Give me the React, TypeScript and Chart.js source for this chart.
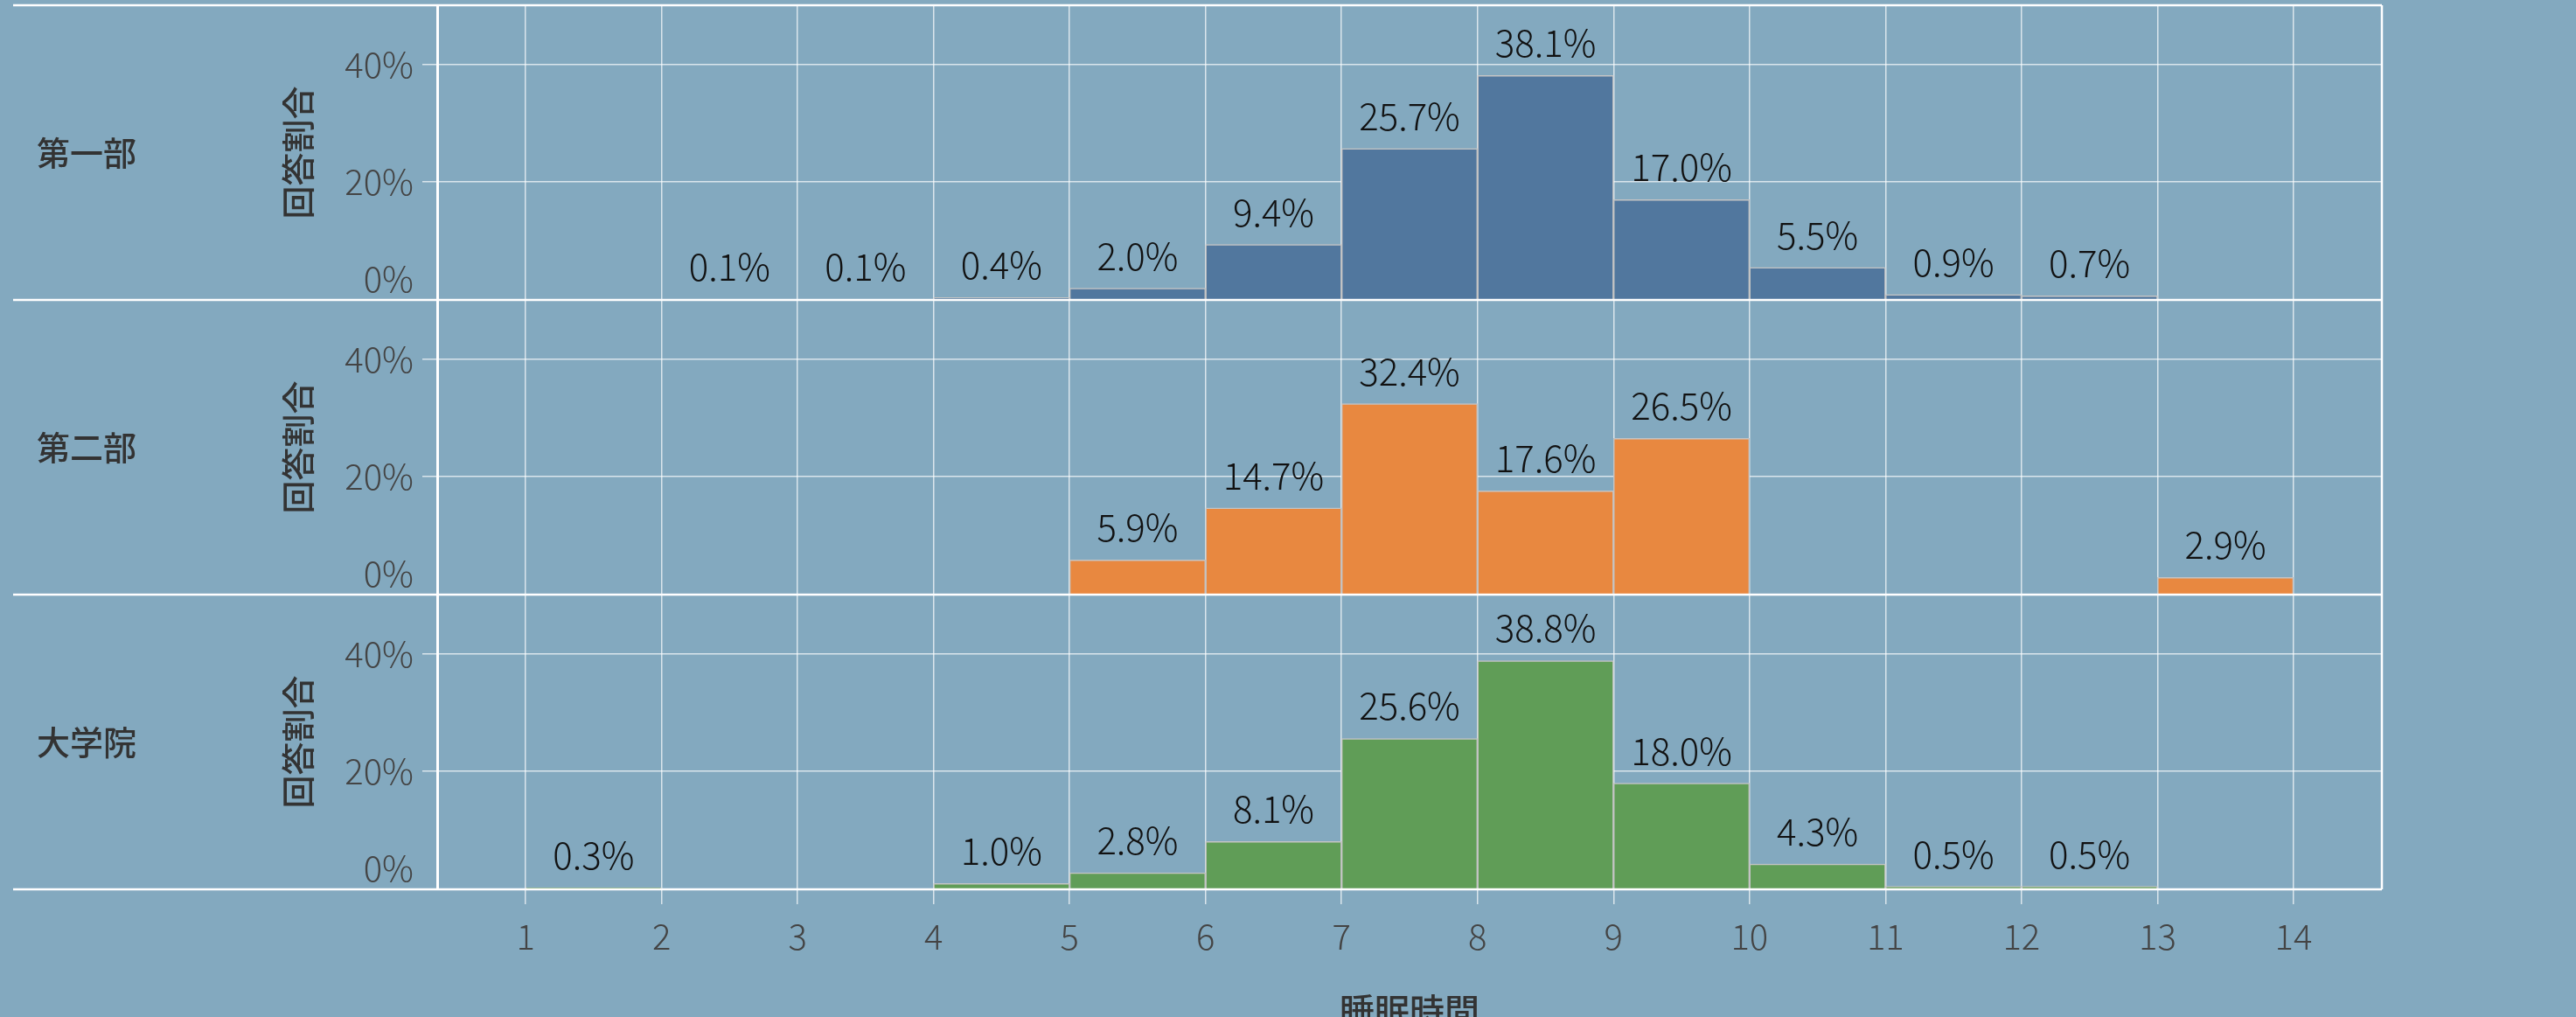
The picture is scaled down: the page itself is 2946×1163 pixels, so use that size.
import React, { useEffect, useRef } from 'react';
import { Chart, registerables } from 'chart.js';

Chart.register(...registerables);

// ---- data ----
const binStarts = [1, 2, 3, 4, 5, 6, 7, 8, 9, 10, 11, 12, 13];
const xTickValues = [1, 2, 3, 4, 5, 6, 7, 8, 9, 10, 11, 12, 13, 14];
const yTickValues = [0, 20, 40];
const groupNames = ['第一部', '第二部', '大学院'];
const dept1Values = [null, 0.1, 0.1, 0.4, 2.0, 9.4, 25.7, 38.1, 17.0, 5.5, 0.9, 0.7, null];
const dept2Values = [null, null, null, null, 5.9, 14.7, 32.4, 17.6, 26.5, null, null, null, 2.9];
const gradValues = [0.3, null, null, 1.0, 2.8, 8.1, 25.6, 38.8, 18.0, 4.3, 0.5, 0.5, null];
const groupColors = ['#51779e', '#e88840', '#609d57'];
const yTitleText = '回答割合';
const xTitleText = '睡眠時間';

const W = 2946;
const H = 1163;
const BG = '#83a9bf';
const FONT = '"Noto Sans CJK JP", "Noto Sans", sans-serif';
const GRID = 'rgba(255,255,255,0.7)';

const seriesList = [dept1Values, dept2Values, gradValues];
const axisIds = ['yA', 'yB', 'yC'];

function makeYScale(idx: number) {
  return {
    type: 'linear',
    position: 'left',
    stack: 'rows',
    stackWeight: 1,
    min: 0,
    max: 50,
    afterBuildTicks: (s: any) => {
      s.ticks = yTickValues.map((v) => ({ value: v }));
    },
    afterFit: (s: any) => {
      s.width = 500;
      s.paddingTop = 0;
      s.paddingBottom = 0;
    },
    grid: { color: GRID, lineWidth: 1.5, tickLength: 17, drawTicks: true },
    border: { display: true, color: '#ffffff', width: 3 },
    ticks: {
      callback: (v: any) => (v === 0 ? ['0%', ''] : v + '%'),
      font: { family: FONT, size: 40, weight: 300 },
      color: '#444444',
      padding: 10,
      autoSkip: false,
    },
    title: {
      display: true,
      text: yTitleText,
      color: '#333333',
      font: { family: FONT, size: 38, weight: 500, lineHeight: 1.2 },
      padding: { top: 318, bottom: 0 },
    },
  };
}

const panelPlugin = {
  id: 'panelPlugin',
  afterDatasetsDraw(chart: any) {
    const { ctx, chartArea } = chart;
    ctx.save();
    // value labels
    ctx.font = `300 42px ${FONT}`;
    ctx.fillStyle = '#111111';
    ctx.textAlign = 'center';
    ctx.textBaseline = 'alphabetic';
    chart.data.datasets.forEach((ds: any, di: number) => {
      const meta = chart.getDatasetMeta(di);
      meta.data.forEach((el: any, i: number) => {
        const v = ds.data[i].y;
        ctx.fillText(v.toFixed(1) + '%', el.x, el.y - 21);
      });
    });
    // separators
    ctx.strokeStyle = '#ffffff';
    ctx.lineWidth = 2.5;
    const ys = [chartArea.top];
    axisIds.forEach((id) => ys.push(chart.scales[id].bottom));
    ys.forEach((y) => {
      ctx.beginPath();
      ctx.moveTo(15, y);
      ctx.lineTo(chartArea.right, y);
      ctx.stroke();
    });
    ctx.beginPath();
    ctx.moveTo(chartArea.right, chartArea.top);
    ctx.lineTo(chartArea.right, chartArea.bottom);
    ctx.stroke();
    // row labels
    ctx.font = `500 38px ${FONT}`;
    ctx.fillStyle = '#333333';
    ctx.textAlign = 'left';
    ctx.textBaseline = 'middle';
    axisIds.forEach((id, gi) => {
      const s = chart.scales[id];
      ctx.fillText(groupNames[gi], 42, (s.top + s.bottom) / 2);
    });
    ctx.restore();
  },
};

export default function App() {
  const ref = useRef<HTMLCanvasElement>(null);
  useEffect(() => {
    document.body.style.background = BG;
    const datasets = groupNames.map((name, gi) => ({
      type: 'bar',
      label: name,
      data: binStarts
        .map((b, i) => ({ x: b + 0.5, y: seriesList[gi][i] }))
        .filter((d) => d.y !== null),
      yAxisID: axisIds[gi],
      backgroundColor: groupColors[gi],
      borderColor: '#c4c4c4',
      borderWidth: 1.5,
      barPercentage: 1,
      categoryPercentage: 1,
      grouped: false,
    }));
    const scales: any = {
      x: {
        type: 'linear',
        position: 'bottom',
        min: 0.35,
        max: 14.65,
        offset: false,
        afterBuildTicks: (s: any) => {
          s.ticks = xTickValues.map((v) => ({ value: v }));
        },
        afterFit: (s: any) => {
          s.height = 146;
          s.paddingLeft = 0;
          s.paddingRight = 0;
        },
        grid: { color: GRID, lineWidth: 1.5, tickLength: 17, offset: false },
        border: { display: false },
        ticks: {
          font: { family: FONT, size: 40, weight: 300 },
          color: '#444444',
          padding: 13,
          maxRotation: 0,
          autoSkip: false,
        },
        title: {
          display: true,
          text: xTitleText,
          color: '#333333',
          font: { family: FONT, size: 40, weight: 500, lineHeight: '14px' },
          padding: 0,
        },
      },
    };
    // left stacked axes are placed in reverse order (last defined on top)
    scales[axisIds[2]] = makeYScale(2);
    scales[axisIds[1]] = makeYScale(1);
    scales[axisIds[0]] = makeYScale(0);

    const chart = new Chart(ref.current as HTMLCanvasElement, {
      type: 'bar',
      data: { datasets: datasets as any },
      options: {
        responsive: false,
        animation: false,
        devicePixelRatio: 1,
        layout: { padding: { left: 0, right: W - 2724, top: 6, bottom: 0 } },
        plugins: { legend: { display: false }, tooltip: { enabled: false } },
        scales,
      } as any,
      plugins: [panelPlugin],
    });
    return () => chart.destroy();
  }, []);
  return (
    <div style={{ position: 'fixed', left: 0, top: 0, width: W, height: H, background: BG }}>
      <canvas ref={ref} width={W} height={H} style={{ display: 'block', width: W, height: H }} />
    </div>
  );
}
